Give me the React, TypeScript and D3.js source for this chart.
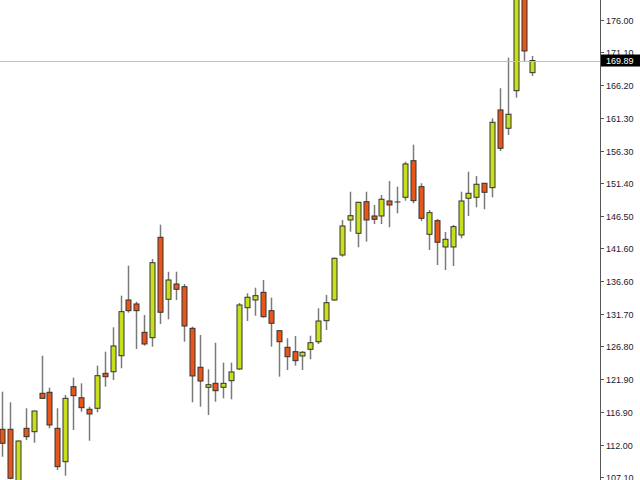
import React from "react";
import * as d3 from "d3";

const opens = [114.31, 114.31, 105.5, 114.46, 113.95, 119.74, 119.89, 114.46, 109.43, 120.73, 119.07, 117.33, 117.48, 122.75, 122.99, 125.4, 133.8, 133.2, 128.93, 128.12, 143.25, 133.91, 136.21, 135.8, 129.53, 123.66, 120.64, 121.24, 120.64, 121.64, 123.4, 132.64, 133.8, 134.96, 132.19, 129.17, 126.67, 126.01, 125.36, 126.37, 127.51, 130.68, 133.8, 140.58, 145.86, 143.85, 148.61, 146.46, 146.46, 148.72, 148.57, 149.28, 154.79, 150.88, 143.7, 145.75, 141.79, 141.79, 143.6, 149.13, 149.28, 151.39, 150.73, 162.44, 159.68, 165.34, 180.5, 168.06];
const highs = [119.98, 118.38, 112.6, 117.48, 117.1, 125.4, 120.58, 117.48, 119.48, 122.09, 121.24, 117.72, 123.9, 126.01, 129.68, 134.45, 138.97, 133.54, 131.54, 139.98, 145.15, 138.06, 138.06, 136.21, 129.78, 128.52, 123.35, 127.36, 124.35, 124.35, 133.35, 134.81, 135.65, 136.81, 134.15, 129.28, 128.03, 128.37, 126.11, 128.42, 132.55, 134.55, 140.2, 145.86, 150.12, 148.61, 150.12, 148.12, 149.62, 151.73, 150.88, 154.64, 157.21, 151.39, 147.36, 146.01, 144.05, 145.1, 150.12, 153.14, 152.49, 151.45, 161.18, 165.71, 170.32, 182, 182.5, 170.57];
const lows = [110.18, 106.8, 105.0, 112.7, 112.29, 118.9, 114.46, 108.18, 107.32, 114.21, 116.96, 112.59, 116.87, 120.73, 121.74, 123.51, 131.89, 126.41, 126.91, 126.76, 130.18, 130.89, 133.8, 127.51, 118.38, 117.72, 116.47, 118.47, 118.98, 118.83, 123.25, 130.63, 131.43, 131.13, 126.76, 122.24, 123.25, 123.9, 123.25, 124.86, 127.17, 129.28, 133.7, 140.33, 144.09, 141.74, 142.59, 145.25, 145.25, 144.76, 146.87, 148.77, 148.37, 145.71, 141.34, 139.07, 138.32, 138.92, 143.1, 146.46, 147.77, 147.47, 149.28, 156.26, 158.67, 164.29, 169.72, 167.56];
const closes = [112.2, 106.93, 112.55, 113.2, 117.07, 118.98, 114.96, 108.68, 118.98, 119.38, 117.57, 116.62, 122.39, 122.24, 126.87, 132.04, 132.19, 132.19, 127.17, 139.42, 131.95, 136.81, 135.41, 129.88, 122.35, 121.59, 121.03, 120.13, 121.24, 122.95, 133.05, 134.21, 134.45, 131.28, 130.29, 127.51, 125.25, 124.65, 125.92, 127.36, 130.63, 133.39, 140.08, 144.95, 146.5, 148.52, 145.86, 145.96, 148.98, 148.12, 148.57, 154.3, 148.77, 146.11, 146.96, 142.5, 142.95, 144.85, 148.72, 149.88, 151.24, 150.03, 160.58, 156.66, 161.79, 181, 171.33, 169.89];

const tickLabels = ["176.00", "171.10", "166.20", "161.30", "156.30", "151.40", "146.50", "141.60", "136.60", "131.70", "126.80", "121.90", "116.90", "112.00", "107.10"];
const currentPrice = 169.89;

const W = 640;
const H = 480;
const axisX = 600;

export default function App() {
  const n = closes.length;
  const x = d3.scaleLinear().domain([0, n - 1]).range([2, 531.7]);
  const y = d3.scaleLinear().domain([106.67, 179.01]).range([H, 0]);
  const bull = "#c8e01c";
  const bear = "#e8561a";

  return (
    <svg
      width={W}
      height={H}
      style={{ position: "absolute", left: 0, top: 0, background: "#fff" }}
      fontFamily="'Liberation Sans', Arial, sans-serif"
    >
      <rect x={0} y={0} width={W} height={H} fill="#fff" />
      <g>
        {closes.map((c, i) => {
          const o = opens[i];
          const cx = Math.round(x(i)) + 0.5;
          const top = y(Math.max(o, c));
          const bot = y(Math.min(o, c));
          const isBull = c >= o;
          return (
            <g key={i}>
              <line x1={cx} x2={cx} y1={y(highs[i])} y2={y(lows[i])} stroke="#7a7a7a" strokeWidth={1.5} />
              {Math.abs(bot - top) < 1 ? (
                <line x1={cx - 3} x2={cx + 3} y1={top} y2={top} stroke="#333" strokeWidth={1} />
              ) : (
                <rect
                  x={cx - 2.5}
                  y={top}
                  width={5}
                  height={bot - top}
                  fill={isBull ? bull : bear}
                  stroke="#333"
                  strokeWidth={1}
                />
              )}
            </g>
          );
        })}
      </g>
      <line x1={0} x2={axisX} y1={Math.round(y(currentPrice)) + 0.5} y2={Math.round(y(currentPrice)) + 0.5} stroke="#c0c0c0" strokeWidth={1} />
      <rect x={axisX} y={0} width={W - axisX} height={H} fill="#fff" />
      <line x1={axisX + 0.5} x2={axisX + 0.5} y1={0} y2={H} stroke="#555" strokeWidth={1} />
      {tickLabels.map((t) => {
        const ty = Math.round(y(+t)) + 0.5;
        return (
          <g key={t}>
            <line x1={axisX} x2={axisX + 4} y1={ty} y2={ty} stroke="#555" strokeWidth={1} />
            <text x={606} y={ty} dy="0.35em" fontSize={9} fill="#1a1a33">
              {t}
            </text>
          </g>
        );
      })}
      <rect x={axisX + 1} y={y(currentPrice) - 6} width={W - axisX - 1} height={12} fill="#000" />
      <text x={606} y={y(currentPrice)} dy="0.35em" fontSize={9} fill="#fff">
        {currentPrice.toFixed(2)}
      </text>
    </svg>
  );
}
